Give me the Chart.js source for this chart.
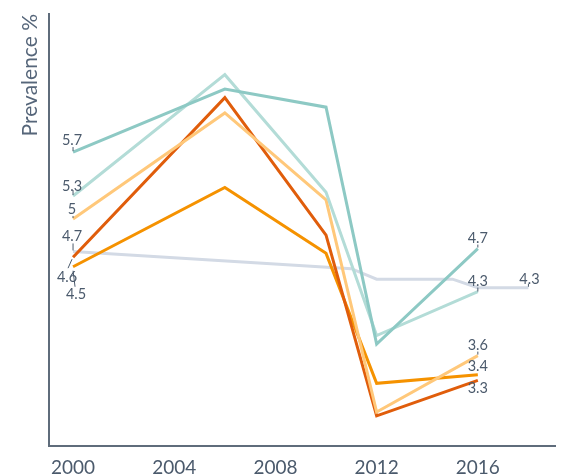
<!DOCTYPE html>
<html>
<head>
<meta charset="utf-8">
<script src="https://cdn.jsdelivr.net/npm/chart.js@4"></script>
<style>
  body { margin: 0; background: #fff; }
  #wrap { width: 562px; height: 475px; position: relative; }
</style>
</head>
<body>
<div id="wrap"><canvas id="chart"></canvas></div>
<script>
// Data
const years = [2000, 2006, 2010, 2012, 2016];
const greyYears = [2000, 2011, 2012, 2015, 2016, 2018];
const xTicks = [2000, 2004, 2008, 2012, 2016];

const tealValues = [5.72, 6.38, 6.19, 3.71, 4.71];
const lightTealValues = [5.26, 6.53, 5.30, 3.80, 4.26];
const lightOrangeValues = [5.02, 6.13, 5.22, 3.00, 3.59];
const darkOrangeValues = [4.62, 6.29, 4.85, 2.96, 3.33];
const orangeValues = [4.52, 5.35, 4.66, 3.30, 3.39];
const greyValues = [4.68, 4.50, 4.39, 4.39, 4.30, 4.30];

const textColor = '#4b5a6c';
const axisColor = '#5f6c7b';

function points(xs, ys) {
  return xs.map((x, i) => ({ x: x, y: ys[i] }));
}

function line(label, xs, ys, color) {
  return {
    label: label,
    data: points(xs, ys),
    borderColor: color,
    backgroundColor: color,
    borderWidth: 3,
    pointRadius: 0,
    tension: 0,
    fill: false
  };
}

// end labels: dataset, point index, text offset, leader line
const endLabels = [
  { ds: 0, i: 0, dx: -1, dy: -11.5, leader: [0, -1, 0, -5] },
  { ds: 0, i: 4, dx: 0, dy: -10, leader: [0, -1, 0, -4] },
  { ds: 1, i: 0, dx: -1, dy: -10, leader: [0, -1, 0, -6] },
  { ds: 1, i: 4, dx: 0, dy: -10, leader: [0, 0, 0, -4] },
  { ds: 2, i: 0, dx: -1, dy: -10, leader: [0, -1, 0, -3] },
  { ds: 2, i: 4, dx: 0, dy: -10.5, leader: [0, -1, 0, -4] },
  { ds: 3, i: 0, dx: -6, dy: 20.5, leader: [-1, 2, -5, 11] },
  { ds: 3, i: 4, dx: 0, dy: 8, leader: null },
  { ds: 4, i: 0, dx: 3, dy: 28, leader: [0, 4, 2, 20] },
  { ds: 4, i: 4, dx: 0, dy: -8, leader: null },
  { ds: 5, i: 0, dx: -1, dy: -15, leader: [0, -1, 0, -8] },
  { ds: 5, i: 5, dx: 1, dy: -8.5, leader: [0, -1, 0, -4] }
];

const endLabelPlugin = {
  id: 'endLabels',
  afterDatasetsDraw(chart) {
    const ctx = chart.ctx;
    ctx.save();
    ctx.font = '14.5px Lato';
    ctx.fillStyle = textColor;
    ctx.strokeStyle = textColor;
    ctx.lineWidth = 1;
    ctx.textAlign = 'center';
    ctx.textBaseline = 'middle';
    endLabels.forEach(l => {
      const el = chart.getDatasetMeta(l.ds).data[l.i];
      const v = chart.data.datasets[l.ds].data[l.i].y;
      if (l.leader) {
        ctx.beginPath();
        ctx.moveTo(el.x + l.leader[0], el.y + l.leader[1]);
        ctx.lineTo(el.x + l.leader[2], el.y + l.leader[3]);
        ctx.stroke();
      }
      ctx.fillText(String(Math.round(v * 10) / 10), el.x + l.dx, el.y + l.dy);
    });
    ctx.restore();
  }
};

const ctx = document.getElementById('chart').getContext('2d');
new Chart(ctx, {
  type: 'line',
  data: {
    datasets: [
      line('Series 1', years, tealValues, '#8dc9c4'),
      line('Series 2', years, lightTealValues, '#b3dcd7'),
      line('Series 3', years, lightOrangeValues, '#ffc87a'),
      line('Series 4', years, darkOrangeValues, '#e05d0b'),
      line('Series 5', years, orangeValues, '#f59200'),
      line('Series 6', greyYears, greyValues, '#d3dae5')
    ]
  },
  options: {
    responsive: true,
    maintainAspectRatio: false,
    animation: false,
    layout: { padding: { top: 14, right: 7, left: 0, bottom: 0 } },
    plugins: {
      legend: { display: false },
      tooltip: { enabled: false }
    },
    scales: {
      x: {
        type: 'linear',
        min: 1999.05,
        max: 2019.05,
        afterBuildTicks: s => { s.ticks = xTicks.map(v => ({ value: v })); },
        afterFit: s => { s.height = 29; },
        grid: { display: false, drawTicks: false },
        border: { display: true, color: axisColor, width: 2 },
        ticks: {
          color: textColor,
          font: { family: 'Lato', size: 19 },
          padding: 10,
          maxRotation: 0,
          callback: v => String(v)
        }
      },
      y: {
        min: 2.644,
        max: 7.165,
        afterFit: s => { s.width = 49; },
        grid: { display: false, drawTicks: false },
        border: { display: true, color: axisColor, width: 2 },
        ticks: { display: false },
        title: {
          display: true,
          text: 'Prevalence %',
          align: 'end',
          color: '#56667a',
          font: { family: 'Lato', size: 21 },
          padding: { top: 18, bottom: 0 }
        }
      }
    }
  },
  plugins: [endLabelPlugin]
});
</script>
</body>
</html>
